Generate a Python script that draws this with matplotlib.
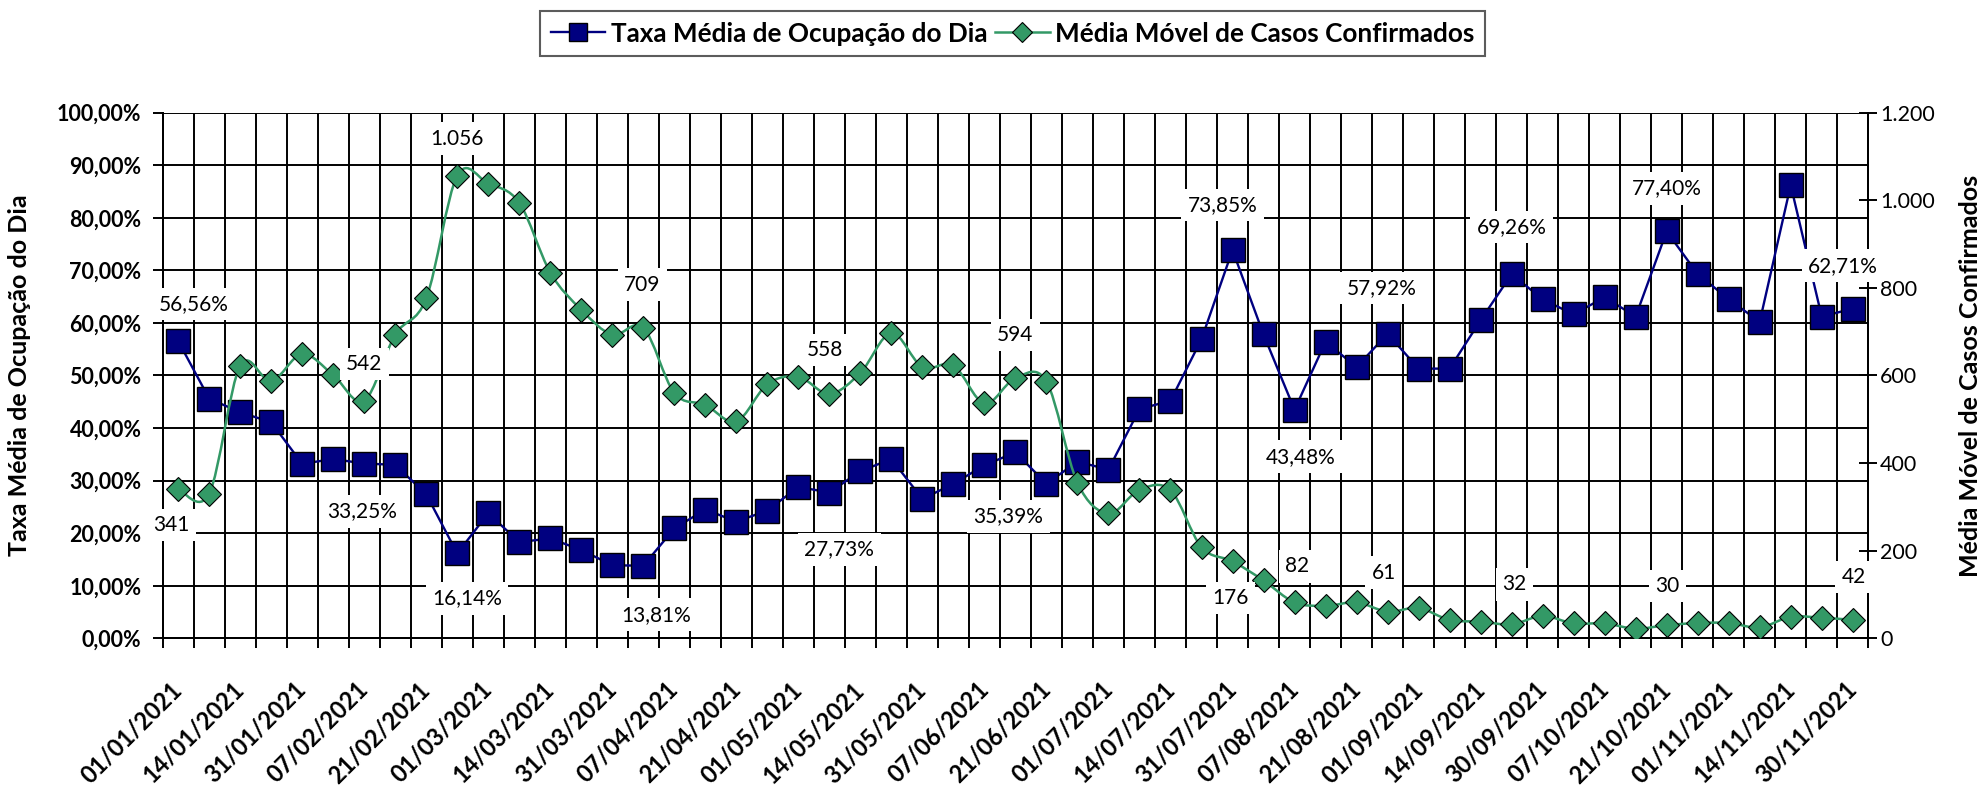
import numpy as np
import matplotlib
matplotlib.use('Agg')
import matplotlib.pyplot as plt
from matplotlib.path import Path
from matplotlib.patches import PathPatch
from matplotlib.lines import Line2D
from matplotlib.ticker import FixedLocator, FuncFormatter

#* Data
dates = ['01/01/2021', '07/01/2021', '14/01/2021', '21/01/2021', '31/01/2021',
         '01/02/2021', '07/02/2021', '14/02/2021', '21/02/2021', '28/02/2021',
         '01/03/2021', '07/03/2021', '14/03/2021', '21/03/2021', '31/03/2021',
         '01/04/2021', '07/04/2021', '14/04/2021', '21/04/2021', '30/04/2021',
         '01/05/2021', '07/05/2021', '14/05/2021', '21/05/2021', '31/05/2021',
         '01/06/2021', '07/06/2021', '14/06/2021', '21/06/2021', '30/06/2021',
         '01/07/2021', '07/07/2021', '14/07/2021', '21/07/2021', '31/07/2021',
         '01/08/2021', '07/08/2021', '14/08/2021', '21/08/2021', '31/08/2021',
         '01/09/2021', '07/09/2021', '14/09/2021', '21/09/2021', '30/09/2021',
         '01/10/2021', '07/10/2021', '14/10/2021', '21/10/2021', '31/10/2021',
         '01/11/2021', '07/11/2021', '14/11/2021', '21/11/2021', '30/11/2021']

ocupacao = [56.56, 45.6, 43.0, 41.1, 33.2, 34.1, 33.25, 33.0, 27.4, 16.14,
            23.8, 18.3, 19.0, 16.8, 13.9, 13.81, 20.9, 24.5, 22.2, 24.3,
            28.8, 27.73, 31.8, 34.1, 26.5, 29.4, 32.9, 35.39, 29.4, 33.6,
            32.1, 43.6, 45.2, 56.9, 73.85, 57.8, 43.48, 56.4, 51.6, 57.92,
            51.3, 51.3, 60.5, 69.26, 64.5, 61.6, 64.9, 61.2, 77.40, 69.3,
            64.5, 60.2, 86.2, 61.2, 62.71]

casos = [341, 330, 622, 587, 649, 601, 542, 693, 776, 1056,
         1038, 994, 835, 750, 693, 709, 560, 533, 495, 580,
         597, 558, 606, 697, 619, 623, 536, 594, 586, 355,
         285, 339, 338, 208, 176, 132, 82, 74, 82, 61,
         69, 42, 38, 32, 51, 34, 34, 22, 30, 35,
         35, 25, 49, 47, 42]

# indices of the points that carry a value label
labelled_idx = [0, 6, 9, 15, 21, 27, 34, 36, 39, 43, 48, 54]

#* Style
NAVY = '#000080'
GREEN = '#339966'
plt.rcParams['font.family'] = ['Lato', 'DejaVu Sans']

# label offsets in pixels (dx, dy up) for each labelled point
occ_offsets = [(16, 37), (-2, -48), (10, -45), (13, -49), (10, -57), (-7, -64),
               (-10, 45), (6, -47), (-6, 46), (0, 47), (0, 43), (-10, 43)]
case_offsets = [(-7, -36), (0, 37), (0, 37), (-1, 43), (-4, 44), (0, 43),
                (-2, -37), (3, 36), (-4, 39), (3, 40), (1, 39), (1, 43)]


def fmt_pct(v, pos=None):
    return f'{v:.2f}%'.replace('.', ',')


def fmt_int(v, pos=None):
    return f'{int(round(v)):,}'.replace(',', '.')


def smooth_path(xs, ys):
    # Bezier path through the points (same idea as Excel's "smoothed line")
    n = len(xs)
    verts = [(xs[0], ys[0])]
    codes = [Path.MOVETO]
    for i in range(n - 1):
        x0, y0 = xs[max(i - 1, 0)], ys[max(i - 1, 0)]
        x1, y1 = xs[i], ys[i]
        x2, y2 = xs[i + 1], ys[i + 1]
        x3, y3 = xs[min(i + 2, n - 1)], ys[min(i + 2, n - 1)]
        verts += [(x1 + (x2 - x0) / 6, y1 + (y2 - y0) / 6),
                  (x2 - (x3 - x1) / 6, y2 - (y3 - y1) / 6),
                  (x2, y2)]
        codes += [Path.CURVE4] * 3
    return Path(verts, codes)


#* Plot
fig = plt.figure(figsize=(19.86, 7.98), dpi=100)
ax = fig.add_axes([0.0819, 0.2001, 0.8588, 0.6588])
ax2 = ax.twinx()

n = len(dates)
x = np.arange(n) + 0.5

ax.set_xlim(0, n)
ax.set_ylim(0, 100)
ax2.set_ylim(0, 1200)

# grid
ax.set_axisbelow(True)
ax.xaxis.set_major_locator(FixedLocator(np.arange(n + 1)))
ax.yaxis.set_major_locator(FixedLocator(np.arange(0, 101, 10)))
ax.grid(True, which='major', color='black', lw=1.4)
ax2.yaxis.set_major_locator(FixedLocator(np.arange(0, 1201, 200)))

# series
ax.plot(x, ocupacao, color=NAVY, lw=1.7, marker='s', ms=17.5,
        mfc=NAVY, mec='black', mew=1.0, zorder=3)
ax2.add_patch(PathPatch(smooth_path(x, casos), fc='none', ec=GREEN,
                        lw=1.8, zorder=3))
ax2.plot(x, casos, ls='none', marker='D', ms=12.5, mfc=GREEN, mec='black',
         mew=0.8, zorder=4)

# spines
for a in (ax, ax2):
    a.spines['top'].set_visible(False)
    for s in ('left', 'right', 'bottom'):
        a.spines[s].set_color('black')
        a.spines[s].set_linewidth(1.4)

# ticks
ax.xaxis.set_major_formatter(FuncFormatter(lambda v, p: ''))
ax.tick_params(axis='x', which='major', direction='out', length=7.2,
               width=1.4, color='black')
ax.xaxis.set_minor_locator(FixedLocator(x[::2]))
ax.set_xticklabels(dates[::2], minor=True)
ax.tick_params(axis='x', which='minor', length=0, pad=34)
for lab in ax.get_xticklabels(minor=True):
    lab.set_rotation(45)
    lab.set_ha('right')
    lab.set_va('center')
    lab.set_rotation_mode('anchor')
    lab.set_fontsize(17)
    lab.set_fontweight('bold')

ax.yaxis.set_major_formatter(FuncFormatter(fmt_pct))
ax.tick_params(axis='y', direction='out', length=7.2, width=1.4, pad=8,
               labelsize=15.5)
for lab in ax.get_yticklabels():
    lab.set_fontweight('bold')

ax2.yaxis.set_major_formatter(FuncFormatter(fmt_int))
ax2.tick_params(axis='y', direction='inout', length=13, width=1.4, pad=2,
                labelsize=15.5)

# axis titles
ax.set_ylabel('Taxa Média de Ocupação do Dia', fontsize=18, fontweight='bold')
ax.yaxis.set_label_coords(-0.0772, 0.5)
ax2.set_ylabel('Média Móvel de Casos Confirmados', fontsize=18,
               fontweight='bold', rotation=90, va='center')
ax2.yaxis.set_label_coords(1.0602, 0.5)

# value labels (white boxes hide the grid and lines behind them)
box = dict(boxstyle='square,pad=0.3', fc='white', ec='none')
for i, (dx, dy) in zip(labelled_idx, occ_offsets):
    ax2.annotate(fmt_pct(ocupacao[i]), xy=(x[i], ocupacao[i]),
                 xycoords=ax.transData, xytext=(dx * 0.72, dy * 0.72),
                 textcoords='offset points', ha='center', va='center',
                 fontsize=15, bbox=box, zorder=10, annotation_clip=False)
for i, (dx, dy) in zip(labelled_idx, case_offsets):
    ax2.annotate(fmt_int(casos[i]), xy=(x[i], casos[i]),
                 xytext=(dx * 0.72, dy * 0.72),
                 textcoords='offset points', ha='center', va='center',
                 fontsize=15, bbox=box, zorder=10, annotation_clip=False)

# legend
handles = [Line2D([], [], color=NAVY, lw=1.7, marker='s', ms=13.5, mfc=NAVY,
                  mec='black', mew=1.0),
           Line2D([], [], color=GREEN, lw=1.8, marker='D', ms=10, mfc=GREEN,
                  mec='black', mew=0.8)]
leg = fig.legend(handles, ['Taxa Média de Ocupação do Dia',
                           'Média Móvel de Casos Confirmados'],
                 loc='upper center', bbox_to_anchor=(0.5098, 0.986), ncol=2,
                 prop={'size': 18.8, 'weight': 'bold'}, frameon=True,
                 fancybox=False, handlelength=2.1, handletextpad=0.2,
                 columnspacing=0.3, borderpad=0.4, borderaxespad=0)
leg.get_frame().set_edgecolor('#333333')
leg.get_frame().set_linewidth(1.5)

fig.savefig('out.png', dpi=100)
